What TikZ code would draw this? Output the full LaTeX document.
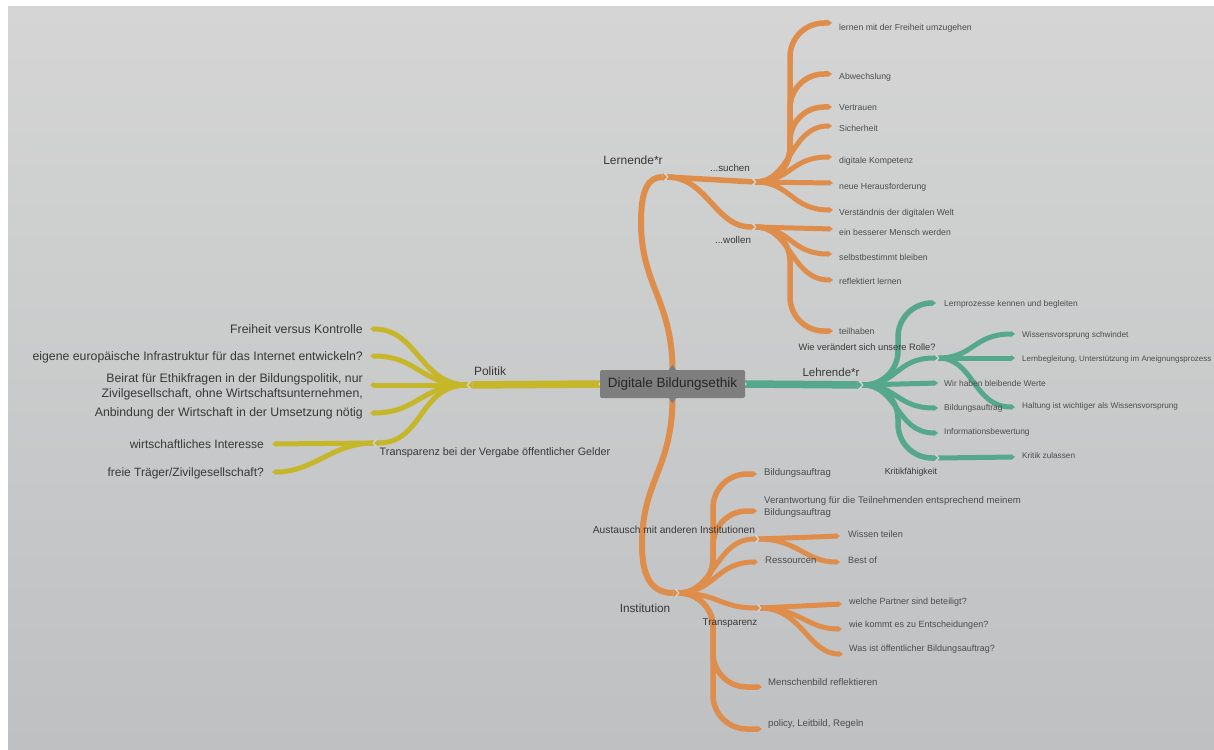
\documentclass[tikz,border=0pt]{standalone}
\usepackage{fontspec}
\setmainfont{Liberation Sans}
\usetikzlibrary{arrows.meta,calc}
\definecolor{corange}{HTML}{DE8D4B}
\definecolor{cyellow}{HTML}{C6B62A}
\definecolor{cteal}{HTML}{56A88C}
\definecolor{cbox}{HTML}{7E7E7E}
\definecolor{bgtop}{HTML}{D4D5D4}
\definecolor{bgbot}{HTML}{BFC0C2}
\definecolor{tmain}{HTML}{383838}
\definecolor{tleaf}{HTML}{4C4C4C}
\definecolor{notchc}{HTML}{D6D7D7}
\pgfdeclarelayer{back}
\pgfdeclarelayer{bg}
\pgfsetlayers{back,bg,main}
\tikzset{
  fsz/.style={font=\fontsize{#1}{\fpeval{1.2*#1}}\selectfont},
  lbl/.style={text=tmain, inner sep=0pt},
  leafR/.style={anchor=west, text=tleaf, inner sep=0pt},
  leafL/.style={anchor=east, text=tmain, inner sep=0pt},
  limb/.style={line width=7.5pt, -{Triangle[length=4.5pt,width=8.5pt,line width=0pt]}},
  twig/.style={line width=5pt, -{Triangle[length=4pt,width=6pt,line width=0pt]}},
  notch/.style={draw=notchc, line width=1pt},
  rootbox/.style={fill=cbox, rounded corners=2pt, minimum width=145pt, minimum height=28pt,
     inner sep=0pt, text=black!85, font=\fontsize{13.5}{16}\selectfont},
}
\newcommand\chevR[1]{\draw[notch] ($(#1)+(-2.5,-4)$) -- ($(#1)+(0.8,0)$) -- ($(#1)+(-2.5,4)$);}
\newcommand\chevL[1]{\draw[notch] ($(#1)+(2.5,-4)$) -- ($(#1)+(-0.8,0)$) -- ($(#1)+(2.5,4)$);}
% tall leaf along a shared trunk: from fork #1 to tip #2, trunk #3 pt left of tip, corner radius #4
\newcommand\rleaf[4]{\draw[twig, line width=5.5pt, rounded corners=#4pt] (#1) -| ([xshift=-#3pt]#2) -- (#2);}
% short leaf: smooth S curve
\newcommand\sleaf[2]{\draw[twig] (#1) .. controls +(36,0) and +(-42,0) .. (#2);}
\begin{document}
\begin{tikzpicture}[x=1pt,y=-1pt]
\useasboundingbox (0,0) rectangle (1214,749);
\begin{pgfonlayer}{back}
\fill[white] (0,0) rectangle (1214,749);
\shade[top color=bgtop,bottom color=bgbot] (8,7) rectangle (1214,749);
\end{pgfonlayer}

% root
\node[rootbox] (root) at (672.5,384) {Digitale Bildungsethik};
\fill[cbox] ($(root.north)+(-4,0.5)$) -- ($(root.north)+(0,-5)$) -- ($(root.north)+(4,0.5)$) -- cycle;
\fill[cbox] ($(root.south)+(-4,-0.5)$) -- ($(root.south)+(0,5)$) -- ($(root.south)+(4,-0.5)$) -- cycle;

% ---------- coordinates ----------
% Politik
\coordinate (pol) at (468,385);
\coordinate (pf1) at (370,329);
\coordinate (pf2) at (370,356);
\coordinate (pf3) at (370,385);
\coordinate (pf4) at (370,413);
\coordinate (ptr) at (374,443);
\coordinate (pw1) at (272,444);
\coordinate (pw2) at (272,472);
% Lernende
\coordinate (ler) at (667,177);
\coordinate (such) at (755,182);
\coordinate (woll) at (755,227);
\coordinate (s1) at (832,23);
\coordinate (s2) at (832,74);
\coordinate (s3) at (832,107);
\coordinate (s4) at (832,126);
\coordinate (s5) at (832,157);
\coordinate (s6) at (833,183);
\coordinate (s7) at (833,210);
\coordinate (w1) at (833,229);
\coordinate (w2) at (832,254);
\coordinate (w3) at (833,280);
\coordinate (w4) at (833,331);
% Lehrende
\coordinate (leh) at (862,385);
\coordinate (l1) at (936,303);
\coordinate (l2) at (938,358);
\coordinate (l3) at (938,383);
\coordinate (l4) at (938,408);
\coordinate (l5) at (938,433);
\coordinate (l6) at (938,458);
\coordinate (r1) at (1015,334);
\coordinate (r2) at (1015,358);
\coordinate (r3) at (1015,407);
\coordinate (k1) at (1015,457);
% Institution
\coordinate (ins) at (678,593);
\coordinate (i1) at (757,474);
\coordinate (i2) at (757,511);
\coordinate (i3) at (758,539);
\coordinate (i4) at (758,562);
\coordinate (i5) at (760,608);
\coordinate (i6) at (762,687);
\coordinate (i7) at (762,729);
\coordinate (a1) at (840,536);
\coordinate (a2) at (840,562);
\coordinate (t1) at (842,604);
\coordinate (t2) at (842,629);
\coordinate (t3) at (843,654);

\begin{pgfonlayer}{bg}
% ---------- Politik ----------
\begin{scope}[draw=cyellow, fill=cyellow]
\draw[limb] (root.west) -- (pol);
\foreach \t in {pf1,pf2,pf3,pf4}
  \draw[twig] (pol) .. controls +(-48,0) and +(48,0) .. (\t);
\draw[twig] (pol) .. controls +(-50,0) and +(50,0) .. (ptr);
\draw[twig] (ptr) -- (pw1);
\draw[twig] (ptr) .. controls +(-42,0) and +(42,0) .. (pw2);
\end{scope}
% ---------- Lernende ----------
\begin{scope}[draw=corange, fill=corange]
\draw[limb, line width=6pt] (root.north) .. controls (672,300) and (641,285) .. (641,222)
   .. controls (641,190) and (648,177) .. (ler);
\draw[twig, line width=5.5pt] (ler) -- (such);
\draw[twig, line width=5.5pt] (ler) .. controls +(40,0) and +(-40,0) .. (woll);
\rleaf{such}{s1}{42}{34}
\rleaf{such}{s2}{42}{34}
\rleaf{such}{s3}{42}{34}
\sleaf{such}{s4}
\sleaf{such}{s5}
\draw[twig] (such) -- (s6);
\sleaf{such}{s7}
\draw[twig] (woll) -- (w1);
\sleaf{woll}{w2}
\sleaf{woll}{w3}
\rleaf{woll}{w4}{43}{34}
\end{scope}
% ---------- Lehrende ----------
\begin{scope}[draw=cteal, fill=cteal]
\draw[limb] (root.east) -- (leh);
\rleaf{leh}{l1}{38}{34}
\sleaf{leh}{l2}
\draw[twig] (leh) -- (l3);
\sleaf{leh}{l4}
\sleaf{leh}{l5}
\rleaf{leh}{l6}{40}{34}
\sleaf{l2}{r1}
\draw[twig] (l2) -- (r2);
\sleaf{l2}{r3}
\draw[twig] (l6) -- (k1);
\end{scope}
% ---------- Institution ----------
\begin{scope}[draw=corange, fill=corange]
\draw[limb, line width=6pt] (root.south) .. controls (672,470) and (642,480) .. (642,545)
   .. controls (642,582) and (655,593) .. (ins);
\rleaf{ins}{i1}{44}{34}
\rleaf{ins}{i2}{44}{34}
\sleaf{ins}{i3}
\sleaf{ins}{i4}
\draw[twig] (ins) .. controls +(40,0) and +(-40,0) .. (i5);
\rleaf{ins}{i6}{49}{34}
\rleaf{ins}{i7}{49}{34}
\draw[twig] (i3) -- (a1);
\draw[twig] (i3) .. controls +(40,0) and +(-35,0) .. (a2);
\draw[twig] (i5) -- (t1);
\draw[twig] (i5) .. controls +(40,0) and +(-35,0) .. (t2);
\draw[twig] (i5) .. controls +(42,0) and +(-35,0) .. (t3);
\end{scope}
% notches
\chevL{pol} \chevL{ptr} \chevL{root.west}
\chevR{ler} \chevR{such} \chevR{woll}
\chevR{leh} \chevR{l2} \chevR{l6} \chevR{root.east}
\chevR{ins} \chevR{i3} \chevR{i5}
\end{pgfonlayer}

% ---------- labels ----------
\node[lbl, fsz=12] (lPol) at (490,371) {Politik};
\node[lbl, fsz=12] (lLer) at (633,160) {Lernende*r};
\node[lbl, fsz=11.5] (lLeh) at (831,372) {Lehrende*r};
\node[lbl, fsz=11.8] (lIns) at (645,608) {Institution};
\node[lbl, fsz=10.8] (lTrG) at (495,453) {Transparenz bei der Vergabe öffentlicher Gelder};
\node[lbl, fsz=9.8] (lSu) at (730,168) {...suchen};
\node[lbl, fsz=9.8] (lWo) at (733,240) {...wollen};
\node[lbl, fsz=9.3] (lWie) at (867,347) {Wie verändert sich unsere Rolle?};
\node[lbl, fsz=8.8] (lKr) at (911,472) {Kritikfähigkeit};
\node[lbl, fsz=10.2] (lAus) at (674,530) {Austausch mit anderen Institutionen};
\node[lbl, fsz=9.8] (lTr) at (730,623) {Transparenz};

% Politik leaves
\node[leafL, fsz=12.3] (nPf1) at (363,329) {Freiheit versus Kontrolle};
\node[leafL, fsz=12.3] (nPf2) at (363,357) {eigene europäische Infrastruktur für das Internet entwickeln?};
\node[leafL, fsz=12.3, align=right] (nPf3) at (363,387) {Beirat für Ethikfragen in der Bildungspolitik, nur\\Zivilgesellschaft, ohne Wirtschaftsunternehmen,};
\node[leafL, fsz=12.3] (nPf4) at (363,413) {Anbindung der Wirtschaft in der Umsetzung nötig};
\node[leafL, fsz=12] (nPw1) at (264,444) {wirtschaftliches Interesse};
\node[leafL, fsz=12] (nPw2) at (264,473) {freie Träger/Zivilgesellschaft?};

% Lernende leaves
\node[leafR, fsz=8.7] (nS1) at (839,28) {lernen mit der Freiheit umzugehen};
\node[leafR, fsz=8.7] (nS2) at (839,77) {Abwechslung};
\node[leafR, fsz=8.7] (nS3) at (839,108) {Vertrauen};
\node[leafR, fsz=8.7] (nS4) at (839,128) {Sicherheit};
\node[leafR, fsz=8.7] (nS5) at (839,161) {digitale Kompetenz};
\node[leafR, fsz=8.7] (nS6) at (839,187) {neue Herausforderung};
\node[leafR, fsz=8.7] (nS7) at (839,213) {Verständnis der digitalen Welt};
\node[leafR, fsz=8.7] (nW1) at (839,232) {ein besserer Mensch werden};
\node[leafR, fsz=8.7] (nW2) at (839,257) {selbstbestimmt bleiben};
\node[leafR, fsz=8.7] (nW3) at (839,281) {reflektiert lernen};
\node[leafR, fsz=8.7] (nW4) at (839,331) {teilhaben};

% Lehrende leaves
\node[leafR, fsz=8.4] (nL1) at (944,304) {Lernprozesse kennen und begleiten};
\node[leafR, fsz=8.4] (nL3) at (944,383) {Wir haben bleibende Werte};
\node[leafR, fsz=8.4] (nL4) at (944,408) {Bildungsauftrag};
\node[leafR, fsz=8.4] (nL5) at (944,432) {Informationsbewertung};
\node[leafR, fsz=8.2] (nR1) at (1022,335) {Wissensvorsprung schwindet};
\node[leafR, fsz=7.95] (nR2) at (1022,359) {Lernbegleitung, Unterstützung im Aneignungsprozess};
\node[leafR, fsz=8.2] (nR3) at (1022,406) {Haltung ist wichtiger als Wissensvorsprung};
\node[leafR, fsz=8.2] (nK1) at (1022,456) {Kritik zulassen};

% Institution leaves
\node[leafR, fsz=9.6] (nI1) at (764,473) {Bildungsauftrag};
\node[leafR, fsz=9.6, align=left] (nI2) at (764,507) {Verantwortung für die Teilnehmenden entsprechend meinem\\Bildungsauftrag};
\node[leafR, fsz=9.6] (nI4) at (765,560) {Ressourcen};
\node[leafR, fsz=9.6] (nI6) at (768,682) {Menschenbild reflektieren};
\node[leafR, fsz=9.6] (nI7) at (768,724) {policy, Leitbild, Regeln};
\node[leafR, fsz=9.2] (nA1) at (848,534) {Wissen teilen};
\node[leafR, fsz=9.2] (nA2) at (848,560) {Best of};
\node[leafR, fsz=9.0] (nT1) at (849,602) {welche Partner sind beteiligt?};
\node[leafR, fsz=9.0] (nT2) at (849,625) {wie kommt es zu Entscheidungen?};
\node[leafR, fsz=9.0] (nT3) at (849,649) {Was ist öffentlicher Bildungsauftrag?};
\end{tikzpicture}
\end{document}
